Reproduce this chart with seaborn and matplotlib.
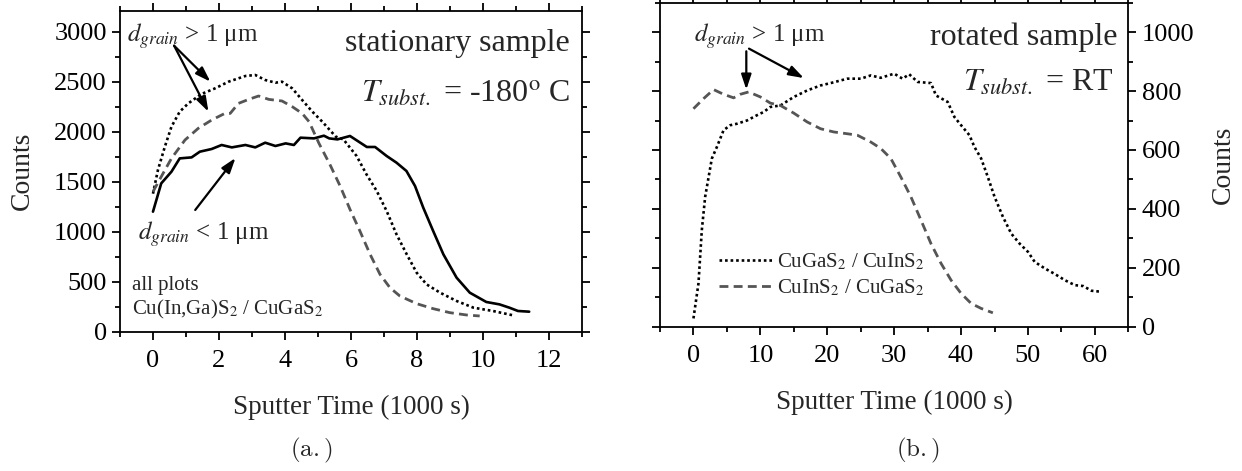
import numpy as np
import pandas as pd
import matplotlib.pyplot as plt
import seaborn as sns
from matplotlib.ticker import MultipleLocator

# (a.) stationary sample, sputter time in 1000 s
t_fine = [0.0, 0.25, 0.56, 0.81, 1.17, 1.42, 1.78, 2.08, 2.39, 2.8, 3.1, 3.4, 3.71, 4.02,
          4.27, 4.47, 4.88, 5.18, 5.34, 5.59, 5.97, 6.48, 6.73, 7.08, 7.38, 7.68, 7.94,
          8.19, 8.49, 8.8, 9.2, 9.6, 10.1, 10.5, 10.8, 11.06, 11.4]
counts_fine = [1200, 1483, 1600, 1733, 1743, 1800, 1827, 1867, 1843, 1867, 1843, 1890, 1857,
               1883, 1867, 1940, 1933, 1960, 1933, 1923, 1957, 1847, 1847, 1757, 1690, 1607,
               1457, 1240, 1007, 773, 540, 390, 297, 273, 240, 207, 200]

t_coarse_dot = [0.0, 0.15, 0.36, 0.56, 0.81, 1.07, 1.47, 1.88, 2.29, 2.8, 3.1, 3.4, 3.71,
                3.91, 4.22, 4.52, 4.83, 5.13, 5.54, 5.77, 6.17, 6.47, 6.78, 7.08, 7.38,
                7.69, 7.99, 8.29, 8.7, 9.2, 9.71, 10.3, 10.92]
counts_coarse_dot = [1380, 1617, 1850, 2050, 2200, 2283, 2377, 2433, 2500, 2557, 2567, 2517,
                     2490, 2500, 2433, 2317, 2200, 2100, 1950, 1923, 1757, 1573, 1407, 1207,
                     973, 773, 590, 473, 390, 307, 240, 207, 163]

t_coarse_dash = [0.0, 0.25, 0.56, 0.97, 1.37, 1.78, 2.18, 2.34, 2.59, 2.9, 3.2, 3.51, 3.91,
                 4.22, 4.52, 4.73, 5.03, 5.36, 5.67, 5.97, 6.27, 6.58, 6.88, 7.18, 7.48,
                 7.99, 8.49, 9.0, 9.5, 9.9]
counts_coarse_dash = [1400, 1550, 1733, 1917, 2033, 2117, 2183, 2183, 2283, 2323, 2357, 2323,
                      2307, 2250, 2183, 2100, 1883, 1673, 1457, 1223, 1007, 773, 573, 440,
                      357, 280, 230, 190, 167, 157]

# (b.) rotated sample
t_ga_in = [0.0, 0.75, 1.25, 1.75, 2.75, 3.5, 4.5, 5.5, 6.5, 8.0, 9.5, 10.5, 11.5, 13.0, 15.0,
           17.0, 19.0, 20.5, 23.0, 25.0, 26.5, 28.0, 30.0, 31.25, 32.25, 33.5, 35.5, 36.25,
           38.0, 39.0, 40.0, 41.25, 42.0, 43.0, 44.0, 45.0, 46.25, 47.5, 48.75, 50.0, 51.0,
           52.5, 54.0, 55.5, 57.0, 58.25, 59.5, 60.75]
counts_ga_in = [28, 147, 328, 441, 571, 610, 667, 684, 689, 700, 718, 729, 746, 751, 780,
                802, 819, 827, 842, 842, 853, 845, 859, 842, 857, 831, 827, 785, 763, 712,
                684, 650, 610, 571, 508, 441, 373, 316, 282, 254, 220, 198, 179, 158, 141,
                138, 122, 119]

t_in_ga = [0.0, 1.5, 3.0, 4.5, 6.0, 7.0, 8.25, 10.0, 11.5, 13.0, 15.0, 17.0, 19.0, 21.0,
           23.0, 24.5, 26.5, 28.0, 29.5, 31.0, 32.5, 34.0, 35.5, 37.0, 38.5, 40.0, 41.5,
           43.0, 44.75]
counts_in_ga = [740, 774, 805, 789, 777, 789, 797, 780, 759, 751, 725, 695, 672, 661, 655,
                650, 627, 605, 571, 508, 441, 362, 282, 215, 158, 113, 79, 62, 47]

sns.set_style("ticks")
plt.rcParams['font.family'] = ['Liberation Serif', 'DejaVu Serif']
plt.rcParams['mathtext.fontset'] = 'stix'
plt.rcParams['axes.linewidth'] = 1.3

fig = plt.figure(figsize=(12.42, 4.71), dpi=100)
ax1 = fig.add_axes([0.0966, 0.2958, 0.372, 0.6815])
ax2 = fig.add_axes([0.5314, 0.3064, 0.3771, 0.6879])

dotted = (0, (1, 1.1))
dashed = (0, (3.2, 1.9))
grey = "#555555"

# ---- panel (a.)
sns.lineplot(x=t_fine, y=counts_fine, ax=ax1, color="black", linewidth=1.9,
             estimator=None, sort=False)
sns.lineplot(x=t_coarse_dot, y=counts_coarse_dot, ax=ax1, color="black", linewidth=1.9,
             linestyle=dotted, estimator=None, sort=False)
sns.lineplot(x=t_coarse_dash, y=counts_coarse_dash, ax=ax1, color=grey, linewidth=2.0,
             linestyle=dashed, estimator=None, sort=False)

ax1.set_xlim(-1, 13)
ax1.set_ylim(0, 3210)
ax1.xaxis.set_major_locator(MultipleLocator(2))
ax1.xaxis.set_minor_locator(MultipleLocator(1))
ax1.yaxis.set_major_locator(MultipleLocator(500))
ax1.yaxis.set_minor_locator(MultipleLocator(250))
ax1.set_xlabel("Sputter Time (1000 s)", fontsize=19.5, labelpad=16.5)
ax1.set_ylabel("Counts", fontsize=20, labelpad=14)

arrow = dict(arrowstyle="-|>,head_length=0.9,head_width=0.3", color="black", lw=1.6,
             shrinkA=0, shrinkB=0)
ax1.text(0.974, 2880, "stationary sample", transform=ax1.get_yaxis_transform(),
         ha="right", va="center", fontsize=23)
ax1.text(0.974, 2300, r"$T_{subst.}$ = -180$^{\mathrm{o}}$ C", transform=ax1.get_yaxis_transform(),
         ha="right", va="baseline", fontsize=23)
ax1.text(-0.78, 2900, r"$d_{grain}$ > 1 μm", ha="left", va="baseline", fontsize=18)
ax1.annotate("", xy=(1.74, 2500), xytext=(0.64, 2860), arrowprops=arrow)
ax1.annotate("", xy=(1.68, 2200), xytext=(0.64, 2860), arrowprops=arrow)
ax1.text(-0.46, 917, r"$d_{grain}$ < 1 μm", ha="left", va="baseline", fontsize=18)
ax1.annotate("", xy=(2.5, 1737), xytext=(1.28, 1217), arrowprops=arrow)
ax1.text(-0.64, 417, "all plots", ha="left", va="baseline", fontsize=15)
ax1.text(-0.64, 167, r"Cu(In,Ga)S$_{\mathrm{2}}$ / CuGaS$_{\mathrm{2}}$", ha="left",
         va="baseline", fontsize=15)

# ---- panel (b.)
sns.lineplot(x=t_ga_in, y=counts_ga_in, ax=ax2, color="black", linewidth=1.9,
             linestyle=dotted, estimator=None, sort=False,
             label=r"CuGaS$_{\mathrm{2}}$ / CuInS$_{\mathrm{2}}$")
sns.lineplot(x=t_in_ga, y=counts_in_ga, ax=ax2, color=grey, linewidth=2.0,
             linestyle=dashed, estimator=None, sort=False,
             label=r"CuInS$_{\mathrm{2}}$ / CuGaS$_{\mathrm{2}}$")

ax2.set_xlim(-5, 65)
ax2.set_ylim(0, 1100)
ax2.xaxis.set_major_locator(MultipleLocator(10))
ax2.xaxis.set_minor_locator(MultipleLocator(5))
ax2.yaxis.set_major_locator(MultipleLocator(200))
ax2.yaxis.set_minor_locator(MultipleLocator(100))
ax2.set_xlabel("Sputter Time (1000 s)", fontsize=19.5, labelpad=16.5)
ax2.yaxis.set_label_position("right")
ax2.set_ylabel("Counts", fontsize=20, labelpad=12)

ax2.text(63.4, 955, "rotated sample", ha="right", va="baseline", fontsize=23)
ax2.text(62.8, 802, r"$T_{subst.}$ = RT", ha="right", va="baseline", fontsize=23)
ax2.text(0.1, 966, r"$d_{grain}$ > 1 μm", ha="left", va="baseline", fontsize=18)
ax2.annotate("", xy=(7.9, 805), xytext=(7.9, 935), arrowprops=arrow)
ax2.annotate("", xy=(16.5, 844), xytext=(8.3, 944), arrowprops=arrow)

leg = ax2.legend(loc="center left", bbox_to_anchor=(0.125, 0.16), frameon=False,
                 fontsize=15, handlelength=2.6, handletextpad=0.2, labelspacing=0.25,
                 borderpad=0, borderaxespad=0)

for ax in (ax1, ax2):
    ax.tick_params(which="both", direction="out", top=True, right=True, width=1.3,
                   labelsize=19, pad=4, colors="black")
    ax.tick_params(axis="x", which="both", pad=7.5)
    ax.tick_params(which="major", length=5.5)
    ax.tick_params(which="minor", length=3.5)
    for s in ax.spines.values():
        s.set_color("black")
ax2.tick_params(which="both", labelleft=False, labelright=True)

fig.text(0.251, 0.03, r"$\mathrm{(a.)}$", math_fontfamily="cm", fontsize=18, ha="center")
fig.text(0.739, 0.03, r"$\mathrm{(b.)}$", math_fontfamily="cm", fontsize=18, ha="center")

fig.savefig("out.png", dpi=100)
